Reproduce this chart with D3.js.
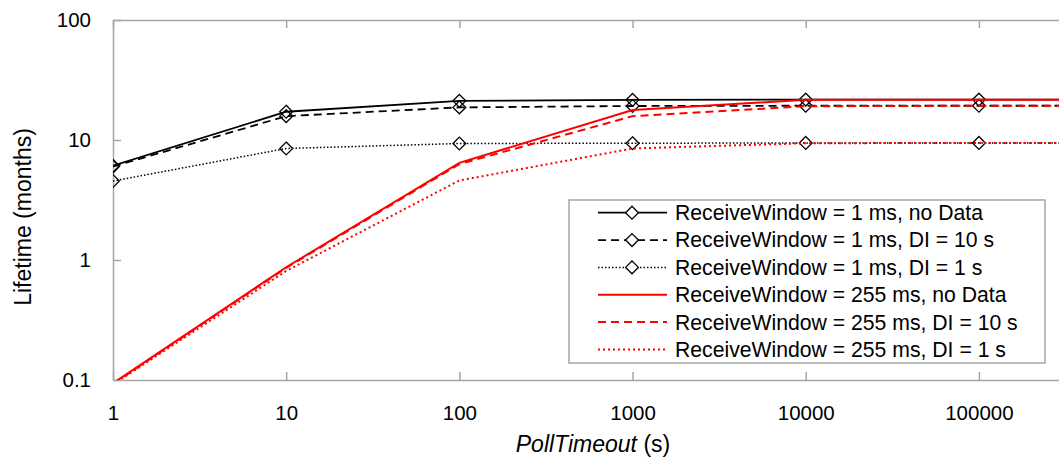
<!DOCTYPE html>
<html>
<head>
<meta charset="utf-8">
<script src="https://d3js.org/d3.v7.min.js"></script>
<style>
    body { margin: 0; background: #fff; }
    text { font-family: "Liberation Sans", Arial, sans-serif; fill: #000; }
    .axis path, .axis line { stroke: #a6a6a6; stroke-width: 1.5; }
    .axis text { font-size: 20.5px; }
</style>
</head>
<body>
<script>
//poll timeout values (s), last one lies past the right edge and gets clipped
var pollTimeout = [1, 10, 100, 1000, 10000, 100000, 1000000];

var rw1NoData   = [6.1, 17.2, 21.2, 21.6, 21.7, 21.7, 21.7];
var rw1DI10     = [6.0, 15.8, 18.7, 19.2, 19.3, 19.3, 19.3];
var rw1DI1      = [4.55, 8.5, 9.35, 9.4, 9.45, 9.45, 9.45];
var rw255NoData = [0.094, 0.87, 6.45, 17.8, 21.6, 21.7, 21.7];
var rw255DI10   = [0.093, 0.86, 6.3, 15.8, 19.1, 19.3, 19.3];
var rw255DI1    = [0.092, 0.81, 4.6, 8.5, 9.4, 9.45, 9.45];

var seriesNames = [
    "ReceiveWindow = 1 ms, no Data",
    "ReceiveWindow = 1 ms, DI = 10 s",
    "ReceiveWindow = 1 ms, DI = 1 s",
    "ReceiveWindow = 255 ms, no Data",
    "ReceiveWindow = 255 ms, DI = 10 s",
    "ReceiveWindow = 255 ms, DI = 1 s"
];

var xTicks = [1, 10, 100, 1000, 10000, 100000];
var yTicks = [0.1, 1, 10, 100];

window.onload = function() {

    var width = 1059, height = 460;

    var svg = d3.select("body")
        .append("svg")
        .attr("width", width)
        .attr("height", height);

    var x = d3.scaleLog()
        .domain([1, 290000])
        .range([113, 1059]);

    var y = d3.scaleLog()
        .domain([0.1, 100])
        .range([380, 20]);

    //series styling, one entry per line
    var styles = [
        {values: rw1NoData,   color: "#000", width: 1.8, dash: null,  marker: true},
        {values: rw1DI10,     color: "#000", width: 1.8, dash: "8,5", marker: true},
        {values: rw1DI1,      color: "#000", width: 1.5, dash: "1.5,2", marker: true},
        {values: rw255NoData, color: "#ff0000", width: 2, dash: null,  marker: false},
        {values: rw255DI10,   color: "#ff0000", width: 2, dash: "8,5", marker: false},
        {values: rw255DI1,    color: "#ff0000", width: 2, dash: "2,3", marker: false}
    ];

    svg.append("clipPath")
        .attr("id", "plotClip")
        .append("rect")
        .attr("x", 113)
        .attr("y", 20)
        .attr("width", 1059 - 113)
        .attr("height", 360);

    //axes, ticks all point inside
    svg.append("g")
        .attr("class", "axis")
        .attr("transform", "translate(0," + y(0.1) + ")")
        .call(d3.axisBottom(x).tickValues(xTicks).tickFormat(d3.format("d"))
            .tickSize(-8).tickSizeOuter(0).tickPadding(25));

    svg.append("g")
        .attr("class", "axis")
        .attr("transform", "translate(0," + y(100) + ")")
        .call(d3.axisTop(x).tickValues(xTicks).tickFormat("")
            .tickSize(-8).tickSizeOuter(0));

    svg.append("g")
        .attr("class", "axis")
        .attr("transform", "translate(" + x(1) + ",0)")
        .call(d3.axisLeft(y).tickValues(yTicks).tickFormat(function(d) { return d; })
            .tickSize(-8).tickSizeOuter(0).tickPadding(22));

    var line = d3.line()
        .x(function(d) { return x(d[0]); })
        .y(function(d) { return y(d[1]); });

    var plot = svg.append("g").attr("clip-path", "url(#plotClip)");

    var diamond = d3.symbol().type(d3.symbolDiamond2).size(105);

    styles.forEach(function(s) {
        var pts = pollTimeout.map(function(t, i) { return [t, s.values[i]]; });
        plot.append("path")
            .datum(pts)
            .attr("d", line)
            .attr("fill", "none")
            .attr("stroke", s.color)
            .attr("stroke-width", s.width)
            .attr("stroke-dasharray", s.dash);
        if (s.marker) {
            plot.selectAll(null)
                .data(pts)
                .enter()
                .append("path")
                .attr("d", diamond)
                .attr("transform", function(d) { return "translate(" + x(d[0]) + "," + y(d[1]) + ")"; })
                .attr("fill", "none")
                .attr("stroke", "#000")
                .attr("stroke-width", 1.3);
        }
    });

    //axis titles
    svg.append("text")
        .attr("text-anchor", "middle")
        .attr("transform", "translate(31,217) rotate(-90)")
        .style("font-size", "23px")
        .text("Lifetime (months)");

    var xTitle = svg.append("text")
        .attr("text-anchor", "middle")
        .attr("x", 593)
        .attr("y", 452)
        .style("font-size", "23px");
    xTitle.append("tspan").style("font-style", "italic").text("PollTimeout");
    xTitle.append("tspan").text(" (s)");

    //legend
    var legend = svg.append("g");
    legend.append("rect")
        .attr("x", 569)
        .attr("y", 200)
        .attr("width", 476)
        .attr("height", 163)
        .attr("fill", "#fff")
        .attr("stroke", "#a6a6a6")
        .attr("stroke-width", 1.5);

    var rows = legend.selectAll(".legendRow")
        .data(styles)
        .enter()
        .append("g")
        .attr("class", "legendRow")
        .attr("transform", function(d, i) { return "translate(0," + (212.7 + i * 27.35) + ")"; });

    rows.append("line")
        .attr("x1", 598)
        .attr("x2", 667)
        .attr("stroke", function(d) { return d.color; })
        .attr("stroke-width", function(d) { return d.width; })
        .attr("stroke-dasharray", function(d) { return d.dash; });

    rows.filter(function(d) { return d.marker; })
        .append("path")
        .attr("d", diamond)
        .attr("transform", "translate(632,0)")
        .attr("fill", "#fff")
        .attr("stroke", "#000")
        .attr("stroke-width", 1.3);

    rows.append("text")
        .attr("x", 675)
        .attr("dy", "0.35em")
        .style("font-size", "21.2px")
        .text(function(d, i) { return seriesNames[i]; });
}
</script>
</body>
</html>
